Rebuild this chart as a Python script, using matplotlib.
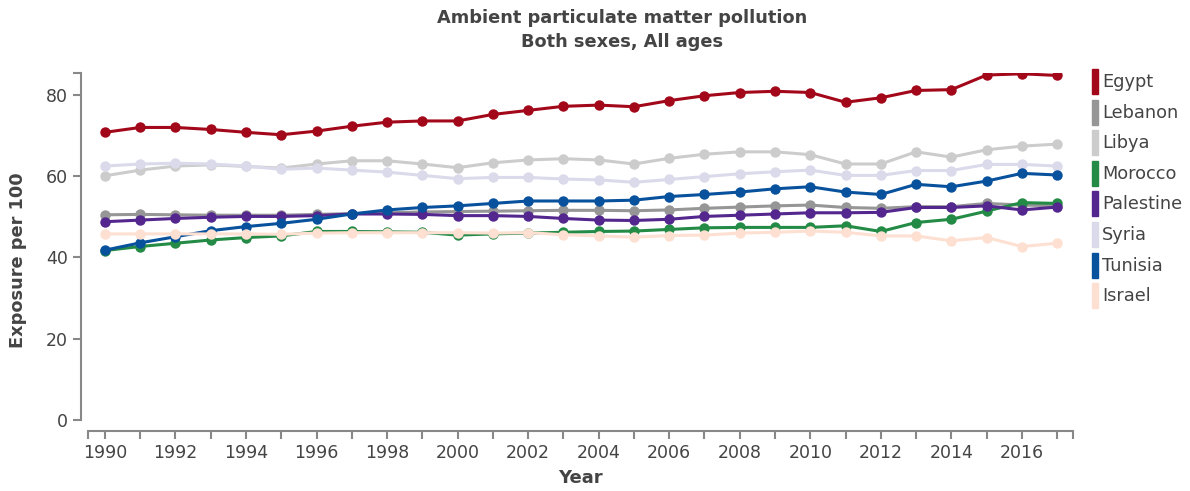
import numpy as np
import matplotlib
matplotlib.use('Agg')
import matplotlib.pyplot as plt
from matplotlib.patches import Rectangle

years = np.arange(1990, 2018)

egypt = [70.8, 72.0, 72.0, 71.5, 70.8, 70.2, 71.1, 72.3, 73.3, 73.6, 73.6, 75.2, 76.2, 77.2,
         77.5, 77.1, 78.6, 79.8, 80.6, 80.9, 80.6, 78.2, 79.3, 81.1, 81.3, 84.9, 85.2, 84.8]
lebanon = [50.5, 50.6, 50.5, 50.4, 50.4, 50.4, 50.6, 50.8, 51.0, 51.2, 51.3, 51.4, 51.5, 51.6,
           51.6, 51.5, 51.7, 52.1, 52.4, 52.7, 52.9, 52.3, 52.1, 52.5, 52.5, 53.3, 52.9, 52.7]
libya = [60.1, 61.5, 62.5, 62.8, 62.4, 62.0, 63.0, 63.8, 63.8, 63.0, 62.1, 63.3, 64.0, 64.3,
         64.0, 63.0, 64.4, 65.4, 66.0, 66.0, 65.3, 63.0, 63.0, 66.0, 64.7, 66.5, 67.4, 67.9]
morocco = [41.7, 42.7, 43.5, 44.3, 44.9, 45.3, 46.4, 46.4, 46.3, 46.2, 45.5, 45.8, 46.0, 46.2,
           46.4, 46.5, 46.9, 47.3, 47.4, 47.4, 47.4, 47.8, 46.4, 48.6, 49.4, 51.4, 53.5, 53.3]
palestine = [48.8, 49.2, 49.6, 49.9, 50.1, 50.1, 50.3, 50.7, 50.7, 50.6, 50.3, 50.3, 50.1, 49.6,
             49.2, 49.1, 49.4, 50.1, 50.4, 50.7, 51.0, 51.0, 51.1, 52.3, 52.3, 52.7, 51.7, 52.4]
syria = [62.5, 63.0, 63.2, 63.0, 62.5, 61.7, 62.0, 61.5, 61.0, 60.2, 59.4, 59.7, 59.7, 59.3,
         59.1, 58.5, 59.2, 59.9, 60.6, 61.1, 61.5, 60.2, 60.2, 61.4, 61.4, 62.9, 62.9, 62.5]
tunisia = [41.8, 43.6, 45.1, 46.6, 47.6, 48.4, 49.4, 50.7, 51.7, 52.3, 52.7, 53.3, 53.9, 53.9,
           53.9, 54.1, 55.0, 55.5, 56.1, 56.9, 57.4, 56.1, 55.5, 58.0, 57.4, 58.8, 60.7, 60.3]
israel = [45.8, 45.8, 45.8, 45.8, 45.8, 45.7, 46.0, 46.1, 46.1, 46.1, 46.1, 46.0, 46.1, 45.6,
          45.3, 45.0, 45.4, 45.5, 46.0, 46.2, 46.5, 46.2, 45.3, 45.3, 44.1, 44.9, 42.7, 43.5]

names = ['Egypt', 'Lebanon', 'Libya', 'Morocco', 'Palestine', 'Syria', 'Tunisia', 'Israel']
series = [egypt, lebanon, libya, morocco, palestine, syria, tunisia, israel]
colors = ['#a3081a', '#969696', '#cccccc', '#238b45', '#54278f', '#dadaeb', '#08519c', '#fee0d2']

W, H = 1190, 491
fig = plt.figure(figsize=(W / 100, H / 100), dpi=100)
ax = fig.add_axes([88 / W, 1 - 420 / H, (1073 - 88) / W, (420 - 73) / H])

for i, (vals, c) in enumerate(zip(series, colors)):
    ax.plot(years, vals, color=c, lw=2.2, marker='o', ms=7.5,
            markeredgewidth=0, solid_joinstyle='round', zorder=3 + i)

ax.set_xlim(1989.52, 2017.45)
ax.set_ylim(0, 85.4)

for s in ['top', 'right']:
    ax.spines[s].set_visible(False)
ax.spines['left'].set_position(('outward', 5))
ax.spines['bottom'].set_position(('outward', 8))
for s in ['left', 'bottom']:
    ax.spines[s].set_color('#888888')
    ax.spines[s].set_linewidth(1.5)

ax.set_xticks(np.arange(1990, 2018, 2))
ax.set_xticks([1989.52] + list(np.arange(1991, 2018, 2)) + [2017.45], minor=True)
ax.set_yticks([0, 20, 40, 60, 80])
ax.set_yticks([85.4], minor=True)
ax.tick_params(which='both', direction='out', length=6, width=1.5, color='#888888',
               labelcolor='#444444', labelsize=12.5)
ax.tick_params(axis='x', pad=3)

ax.set_xlabel('Year', fontsize=13, fontweight='bold', color='#444444')
ax.xaxis.set_label_coords(0.5, (420 - 478) / 347)
ax.xaxis.label.set_va('center')
ax.set_ylabel('Exposure per 100', fontsize=12.8, fontweight='bold', color='#444444')
ax.yaxis.set_label_coords((18 - 88) / 985, (420 - 260) / 347)
ax.yaxis.label.set_va('center')

fig.text(622 / W, 1 - 18 / H, 'Ambient particulate matter pollution', ha='center', va='center',
         fontsize=12.8, fontweight='bold', color='#444444')
fig.text(622 / W, 1 - 42 / H, 'Both sexes, All ages', ha='center', va='center',
         fontsize=12.8, fontweight='bold', color='#444444')

# legend drawn as thin colour bars with labels
for k, (n, c) in enumerate(zip(names, colors)):
    yc = 82 + k * 30.6
    fig.patches.append(Rectangle((1092 / W, 1 - (yc + 12) / H), 6 / W, 25 / H,
                                 transform=fig.transFigure, color=c))
    fig.text(1102 / W, 1 - yc / H, n, ha='left', va='center', fontsize=12.8, color='#444444')

fig.savefig('out.png', dpi=100)
